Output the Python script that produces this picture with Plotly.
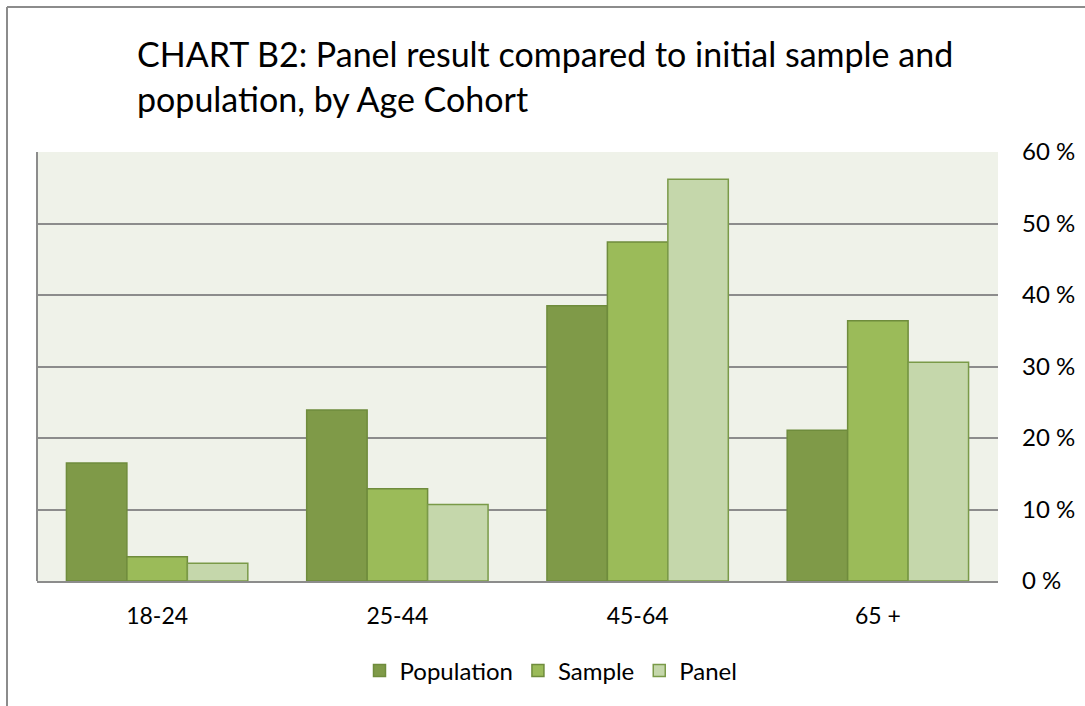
import plotly.graph_objects as go

categories = ["18-24", "25-44", "45-64", "65 +"]
population = [16.5, 23.9, 38.5, 21.1]
sample = [3.4, 12.9, 47.4, 36.4]
panel = [2.5, 10.7, 56.2, 30.6]
y_ticks = [0, 10, 20, 30, 40, 50, 60]
y_tick_labels = [f"{v} %" for v in y_ticks]

FONT = "Lato, 'Open Sans', sans-serif"
W, H = 1085, 706
L, R, T, B = 37, 87, 152, 125
pw, ph = W - L - R, H - T - B

def px_x(x):
    return (x - L) / pw

def px_y(y):
    return (H - B - y) / ph

border = "#6F8C3C"
fig = go.Figure()
fig.add_trace(go.Bar(name="Population", x=categories, y=population,
                     marker=dict(color="#7F9A48", line=dict(color=border, width=1.5))))
fig.add_trace(go.Bar(name="Sample", x=categories, y=sample,
                     marker=dict(color="#9BBB59", line=dict(color=border, width=1.5))))
fig.add_trace(go.Bar(name="Panel", x=categories, y=panel,
                     marker=dict(color="#C5D7AB", line=dict(color="#7A9A48", width=1.5))))

fig.update_layout(
    width=W, height=H,
    margin=dict(l=L, r=R, t=T, b=B, autoexpand=False),
    paper_bgcolor="white",
    plot_bgcolor="#EFF2E9",
    barmode="group",
    bargap=0.245,
    bargroupgap=0,
    font=dict(family=FONT, size=23, color="black"),
    showlegend=True,
    legend=dict(orientation="h", x=px_x(551), xanchor="center", y=px_y(671), yanchor="middle",
                font=dict(size=24), itemwidth=30, traceorder="normal",
                bgcolor="rgba(0,0,0,0)"),
    xaxis=dict(showgrid=False, showline=True, linecolor="#8C8C8C", linewidth=2,
               ticks="", ticklabelstandoff=13, tickfont=dict(size=23)),
    yaxis=dict(side="right", range=[0, 60], tickvals=y_ticks, ticktext=y_tick_labels,
               showgrid=True, gridcolor="#8C8C8C", gridwidth=2, zeroline=False,
               showline=False, ticks="", ticklabelstandoff=23, tickfont=dict(size=24)),
    annotations=[
        dict(text="CHART B2: Panel result compared to initial sample and",
             xref="paper", yref="paper", x=px_x(135), y=px_y(54), xanchor="left", yanchor="middle",
             showarrow=False, font=dict(size=34, family=FONT)),
        dict(text="population, by Age Cohort",
             xref="paper", yref="paper", x=px_x(135), y=px_y(98), xanchor="left", yanchor="middle",
             showarrow=False, font=dict(size=34, family=FONT)),
    ],
    shapes=[
        dict(type="line", xref="paper", yref="paper", x0=0, x1=0, y0=0, y1=1,
             line=dict(color="#8C8C8C", width=2)),
        dict(type="line", xref="paper", yref="paper", x0=px_x(7), x1=px_x(1100), y0=px_y(7), y1=px_y(7),
             line=dict(color="#8C8C8C", width=2)),
        dict(type="line", xref="paper", yref="paper", x0=px_x(7), x1=px_x(7), y0=px_y(7), y1=px_y(720),
             line=dict(color="#8C8C8C", width=2)),
    ],
)

fig.write_html("out.html", config={"displayModeBar": False},
               post_script="document.body.style.margin='0';")
